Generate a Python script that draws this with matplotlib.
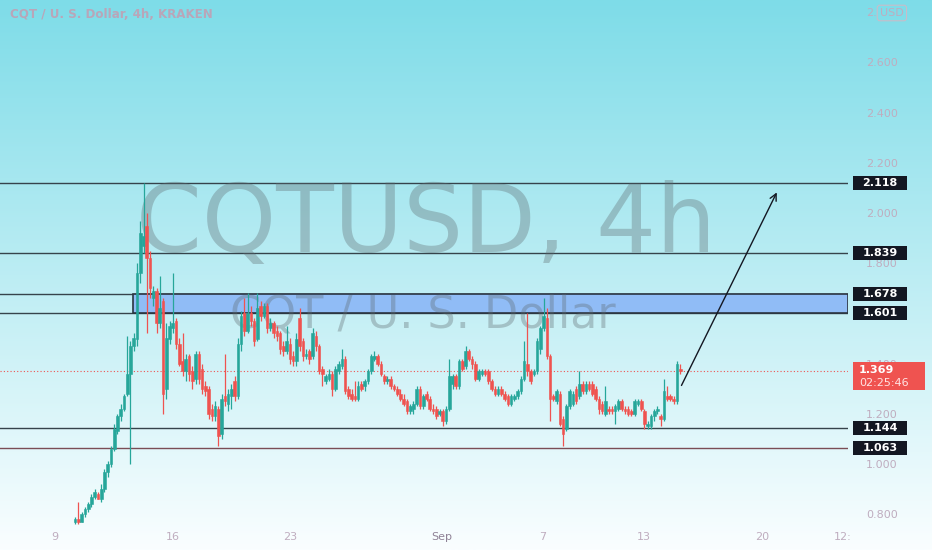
import matplotlib
matplotlib.use('Agg')
import matplotlib.pyplot as plt
import numpy as np
from matplotlib.patches import Rectangle

# 4h candles, CQT/USD (Kraken)
opens = [0.77, 0.78, 0.77, 0.80, 0.82, 0.84, 0.87, 0.88, 0.86, 0.90, 0.97, 1.00, 1.06, 1.13, 1.19, 1.22, 1.28, 1.36, 1.47, 1.50, 1.76,
         1.87, 1.95, 1.82,
         1.66, 1.69, 1.56, 1.65, 1.30, 1.50, 1.54, 1.57, 1.48, 1.41,
         1.37, 1.43, 1.37, 1.34, 1.44, 1.38, 1.31, 1.30, 1.22, 1.19,
         1.22, 1.12, 1.27, 1.24, 1.27, 1.33, 1.27, 1.48, 1.60, 1.53,
         1.60, 1.57, 1.50, 1.63, 1.59, 1.63, 1.54, 1.56, 1.53, 1.52,
         1.47, 1.45, 1.48, 1.43, 1.41, 1.58, 1.49, 1.43, 1.45, 1.43,
         1.51, 1.47, 1.38, 1.33, 1.34, 1.36, 1.30, 1.37, 1.39, 1.42,
         1.30, 1.28, 1.27, 1.26, 1.32, 1.31, 1.33, 1.37, 1.42, 1.43,
         1.40, 1.35, 1.33, 1.34, 1.31, 1.30, 1.28, 1.26, 1.25, 1.21,
         1.22, 1.24, 1.30, 1.23, 1.28, 1.26, 1.22, 1.22, 1.20, 1.21,
         1.17, 1.22, 1.32, 1.35, 1.31, 1.41, 1.39, 1.45, 1.42, 1.40,
         1.34, 1.36, 1.37, 1.37, 1.33, 1.30, 1.28, 1.30, 1.28, 1.27,
         1.24, 1.26, 1.27, 1.29, 1.34, 1.40, 1.37, 1.36, 1.37, 1.46,
         1.54, 1.58, 1.43, 1.27, 1.25, 1.28, 1.18, 1.14, 1.23, 1.24,
         1.30, 1.27, 1.32, 1.29, 1.32, 1.32, 1.30, 1.26, 1.24, 1.20,
         1.22, 1.22, 1.21, 1.22, 1.25, 1.22, 1.22, 1.21, 1.20, 1.24,
         1.25, 1.21, 1.15, 1.15, 1.19, 1.21, 1.19, 1.18, 1.27, 1.27,
         1.26, 1.25, 1.38]
highs = [0.79, 0.85, 0.81, 0.83, 0.85, 0.88, 0.90, 0.89, 0.92, 0.98, 1.01, 1.07, 1.16, 1.20, 1.24, 1.28, 1.51, 1.49, 1.52, 1.80, 1.97,
         2.118, 2.00, 1.85,
         1.71, 1.70, 1.75, 1.66, 1.56, 1.57, 1.76, 1.58, 1.50, 1.52,
         1.44, 1.44, 1.39, 1.45, 1.45, 1.40, 1.33, 1.31, 1.24, 1.25,
         1.23, 1.28, 1.44, 1.30, 1.32, 1.35, 1.50, 1.61, 1.66, 1.68,
         1.63, 1.58, 1.68, 1.65, 1.64, 1.64, 1.58, 1.57, 1.55, 1.53,
         1.49, 1.55, 1.50, 1.45, 1.52, 1.62, 1.50, 1.46, 1.46, 1.54,
         1.53, 1.48, 1.39, 1.36, 1.38, 1.37, 1.39, 1.41, 1.46, 1.43,
         1.31, 1.30, 1.33, 1.33, 1.33, 1.34, 1.38, 1.44, 1.45, 1.44,
         1.41, 1.36, 1.35, 1.35, 1.32, 1.31, 1.30, 1.28, 1.26, 1.24,
         1.25, 1.31, 1.31, 1.28, 1.29, 1.27, 1.24, 1.23, 1.22, 1.22,
         1.23, 1.42, 1.36, 1.36, 1.42, 1.42, 1.47, 1.46, 1.43, 1.41,
         1.38, 1.38, 1.38, 1.38, 1.34, 1.31, 1.31, 1.31, 1.29, 1.28,
         1.28, 1.28, 1.30, 1.35, 1.49, 1.60, 1.38, 1.38, 1.50, 1.55,
         1.66, 1.62, 1.44, 1.28, 1.30, 1.29, 1.19, 1.24, 1.30, 1.29,
         1.31, 1.37, 1.33, 1.33, 1.33, 1.33, 1.31, 1.27, 1.25, 1.31,
         1.23, 1.23, 1.24, 1.26, 1.26, 1.23, 1.23, 1.22, 1.26, 1.26,
         1.26, 1.22, 1.17, 1.20, 1.22, 1.23, 1.20, 1.34, 1.31, 1.28,
         1.27, 1.41, 1.40]
lows = [0.76, 0.76, 0.77, 0.79, 0.81, 0.83, 0.86, 0.86, 0.85, 0.89, 0.95, 0.99, 1.05, 1.12, 1.17, 1.21, 1.27, 1.00, 1.45, 1.47, 1.72,
        1.84, 1.52, 1.66,
        1.63, 1.52, 1.54, 1.20, 1.26, 1.48, 1.52, 1.46, 1.39, 1.35,
        1.33, 1.33, 1.30, 1.32, 1.32, 1.28, 1.27, 1.18, 1.17, 1.17,
        1.07, 1.10, 1.23, 1.21, 1.22, 1.25, 1.26, 1.45, 1.51, 1.52,
        1.55, 1.47, 1.49, 1.57, 1.58, 1.52, 1.53, 1.50, 1.49, 1.44,
        1.43, 1.44, 1.40, 1.39, 1.39, 1.45, 1.41, 1.42, 1.40, 1.42,
        1.45, 1.36, 1.31, 1.32, 1.33, 1.27, 1.29, 1.36, 1.38, 1.28,
        1.26, 1.25, 1.25, 1.25, 1.29, 1.29, 1.32, 1.36, 1.41, 1.39,
        1.35, 1.32, 1.32, 1.30, 1.29, 1.27, 1.25, 1.23, 1.20, 1.20,
        1.20, 1.23, 1.22, 1.22, 1.25, 1.21, 1.20, 1.18, 1.19, 1.15,
        1.16, 1.21, 1.30, 1.30, 1.30, 1.37, 1.38, 1.41, 1.38, 1.33,
        1.33, 1.35, 1.35, 1.32, 1.29, 1.27, 1.27, 1.27, 1.25, 1.23,
        1.23, 1.25, 1.26, 1.28, 1.33, 1.35, 1.32, 1.35, 1.36, 1.44,
        1.53, 1.42, 1.17, 1.25, 1.24, 1.15, 1.07, 1.13, 1.22, 1.23,
        1.24, 1.26, 1.28, 1.28, 1.29, 1.27, 1.25, 1.20, 1.20, 1.19,
        1.20, 1.20, 1.16, 1.21, 1.21, 1.20, 1.19, 1.19, 1.19, 1.23,
        1.21, 1.14, 1.14, 1.14, 1.17, 1.20, 1.15, 1.17, 1.25, 1.25,
        1.24, 1.24, 1.36]
closes = [0.78, 0.77, 0.80, 0.82, 0.84, 0.87, 0.89, 0.86, 0.90, 0.97, 1.00, 1.06, 1.14, 1.19, 1.22, 1.27, 1.36, 1.47, 1.50, 1.76, 1.92,
          1.91, 1.82, 1.70,
          1.69, 1.56, 1.62, 1.28, 1.50, 1.55, 1.56, 1.48, 1.40, 1.37,
          1.42, 1.36, 1.33, 1.44, 1.34, 1.30, 1.29, 1.20, 1.19, 1.23,
          1.11, 1.26, 1.25, 1.28, 1.30, 1.27, 1.48, 1.59, 1.53, 1.60,
          1.57, 1.49, 1.62, 1.59, 1.63, 1.54, 1.56, 1.52, 1.51, 1.46,
          1.45, 1.49, 1.42, 1.41, 1.50, 1.47, 1.43, 1.44, 1.42, 1.52,
          1.47, 1.37, 1.36, 1.35, 1.36, 1.30, 1.38, 1.40, 1.42, 1.29,
          1.27, 1.26, 1.26, 1.31, 1.30, 1.33, 1.37, 1.43, 1.43, 1.40,
          1.36, 1.33, 1.34, 1.31, 1.30, 1.28, 1.26, 1.24, 1.21, 1.23,
          1.24, 1.30, 1.23, 1.27, 1.26, 1.22, 1.21, 1.19, 1.21, 1.17,
          1.22, 1.35, 1.35, 1.31, 1.41, 1.38, 1.45, 1.42, 1.40, 1.34,
          1.37, 1.37, 1.36, 1.33, 1.30, 1.28, 1.30, 1.28, 1.26, 1.24,
          1.27, 1.27, 1.29, 1.34, 1.41, 1.37, 1.33, 1.37, 1.49, 1.54,
          1.59, 1.43, 1.26, 1.26, 1.29, 1.16, 1.12, 1.23, 1.29, 1.28,
          1.25, 1.32, 1.29, 1.32, 1.30, 1.28, 1.26, 1.22, 1.21, 1.25,
          1.21, 1.21, 1.23, 1.25, 1.22, 1.21, 1.20, 1.20, 1.25, 1.25,
          1.22, 1.16, 1.16, 1.19, 1.21, 1.22, 1.18, 1.29, 1.26, 1.26,
          1.25, 1.40, 1.369]

levels = [2.118, 1.839, 1.678, 1.601, 1.144, 1.063]
zone = (1.601, 1.678)
last_price = 1.369
countdown = '02:25:46'
target = 2.092
price_ticks = [0.8, 1.0, 1.2, 1.4, 1.6, 1.8, 2.0, 2.2, 2.4, 2.6]
date_ticks = [9, 16, 23, 32, 38, 44, 51, 55.8]      # days counted from Aug 0
date_labels = ['9', '16', '23', 'Sep', '7', '13', '20', '12:']

GREEN = '#26a69a'
RED = '#ef5350'
DARK = '#131722'
TICK = '#bfadbf'

fig = plt.figure(figsize=(9.32, 5.5), dpi=100)

# gradient background over the whole figure
bg = fig.add_axes([0, 0, 1, 1], zorder=-1)
g = np.linspace(0, 1, 256)[:, None, None]
top = np.array([126, 220, 232]) / 255
bot = np.array([250, 254, 255]) / 255
bg.imshow(top + (bot - top) * g, aspect='auto', extent=[0, 1, 0, 1], origin='upper')
bg.axis('off')

ax = fig.add_axes([0, 25 / 550, 848 / 932, 525 / 550])
ax.set_facecolor('none')
x_left = 9 - 55 / 16.83
x_right = x_left + 848 / 16.83
ax.set_xlim(x_left, x_right)
ax.set_ylim(1 - 61 / 251, 1 + 464 / 251)
for s in ax.spines.values():
    s.set_visible(False)

# watermark (drawn over the zone, under the candles)
wm = dict(transform=ax.transAxes, ha='center', va='baseline', color='#5f6b70', alpha=0.35, zorder=2.5)
ax.text(0.502, 0.52, 'CQTUSD, 4h', fontsize=68, **wm)
ax.text(0.499, 0.377, 'CQT / U. S. Dollar', fontsize=32, **wm)

# candles
n = len(closes)
xs = np.linspace(10.2, 46.15, n)
o = np.array(opens); c = np.array(closes)
cols = [GREEN if cc >= oo else RED for oo, cc in zip(o, c)]
step = xs[1] - xs[0]
ax.vlines(xs, lows, highs, colors=cols, lw=0.9, zorder=3)
ax.bar(xs, np.maximum(np.abs(c - o), 0.005), bottom=np.minimum(o, c), width=step * 0.8,
       color=cols, edgecolor=cols, linewidth=0.4, zorder=4)

# levels and zone
for lv in levels:
    ax.axhline(lv, color='#7a4d55' if lv == 1.063 else '#36434b', lw=1, zorder=2)
zone_left = 9 + 78 / 16.83
ax.add_patch(Rectangle((zone_left, zone[0]), x_right - zone_left - 0.02, zone[1] - zone[0],
                       facecolor='#90bcf6', edgecolor='#2b3440', lw=1.2, zorder=2))
ax.axhline(last_price, color=RED, ls=(0, (1, 2)), lw=0.8, zorder=2)

# projection arrow
ax.annotate('', xy=(51.96, target), xytext=(xs[-1], 1.303),
            arrowprops=dict(arrowstyle='->', color=DARK, lw=1, mutation_scale=12), zorder=5)

# axes ticks
ax.yaxis.tick_right()
ax.set_yticks(price_ticks)
ax.set_yticklabels([f'{t:.3f}' for t in price_ticks])
ax.tick_params(axis='y', length=0, pad=13, labelcolor=TICK, labelsize=8)
ax.set_xticks(date_ticks)
ax.set_xticklabels(date_labels)
ax.tick_params(axis='x', length=0, pad=5, labelcolor=TICK, labelsize=8)
ax.get_xticklabels()[3].set_color('#8f8296')

# price labels on the scale
yt = ax.get_yaxis_transform()
bh = 0.056
for lv in levels:
    ax.add_patch(Rectangle((1.006, lv - bh / 2), 0.0637, bh, transform=yt, facecolor=DARK,
                           edgecolor='none', clip_on=False, zorder=6))
    ax.text(1.038, lv, f'{lv:.3f}', transform=yt, ha='center', va='center', color='white',
            fontsize=8, fontweight='bold', clip_on=False, zorder=7)
ax.add_patch(Rectangle((1.006, last_price - 0.074), 0.085, 0.111, transform=yt, facecolor=RED,
                       edgecolor='none', clip_on=False, zorder=6))
ax.text(1.013, last_price + 0.006, f'{last_price:.3f}', transform=yt, ha='left', va='center',
        color='white', fontsize=8, fontweight='bold', clip_on=False, zorder=7)
ax.text(1.013, last_price - 0.046, countdown, transform=yt, ha='left', va='center',
        color='#ffe4e4', fontsize=8, clip_on=False, zorder=7)

fig.text(866 / 932, 1 - 13 / 550, '2.', color=TICK, fontsize=8, va='center')
fig.text(880 / 932, 1 - 13 / 550, 'USD', color=TICK, fontsize=8, va='center',
         bbox=dict(boxstyle='round,pad=0.25', fc='none', ec='#c9bcc9', lw=0.8))

fig.text(10 / 932, 1 - 15 / 550, 'CQT / U. S. Dollar, 4h, KRAKEN', color='#b9a6b9',
         fontsize=8.6, fontweight='bold', va='center')

plt.savefig('out.png', dpi=100)
